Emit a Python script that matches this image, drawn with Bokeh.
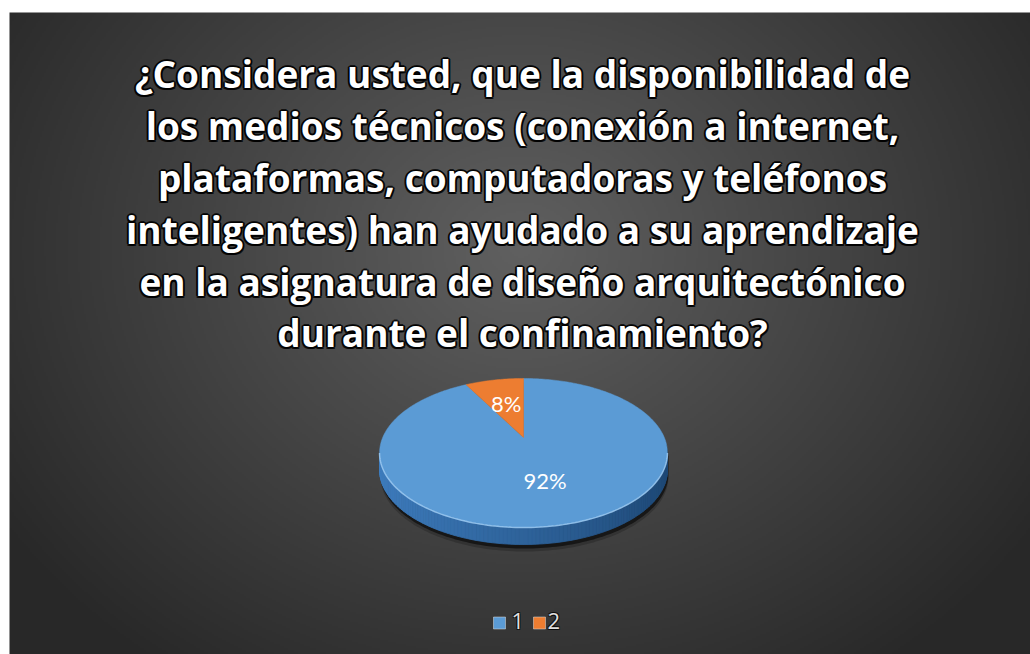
import math
import numpy as np
from bokeh.plotting import figure
from bokeh.models import Range1d
from bokeh.core.properties import value
from bokeh.embed import file_html
from bokeh.resources import INLINE

# ---------------- data ----------------
title_lines = [
    "¿Considera usted, que la disponibilidad de",
    "los medios técnicos (conexión a internet,",
    "plataformas, computadoras y teléfonos",
    "inteligentes) han ayudado a su aprendizaje",
    "en la asignatura de diseño arquitectónico",
    "durante el confinamiento?",
]
categories = ["1", "2"]
shares = [92, 8]
pct_labels = ["92%", "8%"]

# ---------------- styles ----------------
top_colors = ["#5b9bd5", "#ed7d31"]
side_light = ["#3f7ec0", "#c8651f"]
side_dark = ["#1d4774", "#7a3a10"]

W, H = 1030, 654

p = figure(width=W, height=H, x_range=Range1d(0, W), y_range=Range1d(0, H),
           output_backend="svg", toolbar_location=None, min_border=0,
           x_axis_location=None, y_axis_location=None)
p.grid.visible = False
p.outline_line_color = None
p.background_fill_color = "white"
p.border_fill_color = "white"


def Y(sy):
    return H - sy


def hex2rgb(h):
    h = h.lstrip("#")
    return np.array([int(h[i:i + 2], 16) for i in (0, 2, 4)], dtype=float)


def mix(c1, c2, s):
    c = hex2rgb(c1) * (1 - s) + hex2rgb(c2) * s
    return "#%02x%02x%02x" % tuple(int(round(v)) for v in c)


# ---------------- radial gradient background ----------------
X0, Y0 = 9, 12
bw, bh = W - X0, H - Y0
nx, ny = bw // 2, bh // 2
gxs = X0 + (np.arange(nx) + 0.5) * bw / nx
gys = Y0 + (np.arange(ny) + 0.5) * bh / ny
gx, gy = np.meshgrid(gxs, gys)
t = np.clip(np.sqrt(((gx - 520) / 620.0) ** 2 + ((gy - 248) / 520.0) ** 2), 0, 1)
c = (96 - 56 * t).astype(np.uint8)
img = np.empty((ny, nx), dtype=np.uint32)
view = img.view(dtype=np.uint8).reshape((ny, nx, 4))
view[..., 0] = c
view[..., 1] = c
view[..., 2] = c
view[..., 3] = 255
p.image_rgba(image=[np.ascontiguousarray(img[::-1])], x=X0, y=0, dw=bw, dh=bh)

# ---------------- 3D pie ----------------
CX, CY = 523, 437
A, B, K, T = 140.8, 71.3, 0.208, 17


def proj(theta_deg, r=1.0):
    th = np.radians(theta_deg)
    u, v = r * np.sin(th), r * np.cos(th)
    d = 1 + K * v
    return CX + A * u / d, Y(CY - B * v / d)


total = float(sum(shares))
bounds = np.concatenate([[0.0], np.cumsum(shares)]) / total * 360.0
th_ext = math.degrees(math.acos(-K))

# shadow
back = np.linspace(-th_ext, th_ext, 120)
front = np.linspace(th_ext, 360 - th_ext, 121)
bx, by = proj(back)
fx, fy = proj(front)
sil_x = np.concatenate([bx, fx[1:-1]])
sil_y = np.concatenate([by, fy[1:-1] - T])
p.patch(sil_x + 1, sil_y - 7, fill_color="black", fill_alpha=0.2, line_color=None)
p.patch(sil_x + 1, sil_y - 4, fill_color="black", fill_alpha=0.55, line_color=None)

# side wall
side_xs, side_ys, side_cols = [], [], []
for i in range(len(front) - 1):
    mid = (front[i] + front[i + 1]) / 2
    k = int(np.searchsorted(bounds, mid % 360, side="right") - 1)
    k = min(max(k, 0), len(shares) - 1)
    s = (1 - math.sin(math.radians(mid))) / 2
    side_xs.append([fx[i], fx[i + 1], fx[i + 1], fx[i]])
    side_ys.append([fy[i], fy[i + 1], fy[i + 1] - T, fy[i] - T])
    side_cols.append(mix(side_dark[k], side_light[k], s))
p.patches(side_xs, side_ys, fill_color=side_cols, line_color=side_cols, line_width=0.8)

# top faces
for i in range(len(shares)):
    a0, a1 = bounds[i], bounds[i + 1]
    th = np.linspace(a0, a1, max(int(a1 - a0), 2) + 1)
    px, py = proj(th)
    xs = np.concatenate([[CX], px])
    ys = np.concatenate([[Y(CY)], py])
    p.patch(xs, ys, fill_color=top_colors[i], line_color=top_colors[i], line_width=0.5)

# rim highlight on the front edge
p.line(fx, fy, line_color="#a6d0f5", line_alpha=0.75, line_width=1.5)

# slice labels
mids = (bounds[:-1] + bounds[1:]) / 2
lx, ly = proj(mids, 0.55)
p.text(x=lx, y=ly, text=pct_labels, text_align="center", text_baseline="middle",
       text_color="white", text_font=value("Lato"), text_font_size="22px")

# ---------------- title ----------------
baselines = [73, 125, 177, 229, 281, 332]
TX = 522
tkw = dict(text_align="center", text_baseline="alphabetic", text_font=value("Open Sans"),
           text_font_style="bold", text_font_size="37px")
tys = [Y(b) for b in baselines]
for dx, dy in [(2, 0), (-2, 0), (0, 2), (0, -2), (1.5, 1.5), (-1.5, 1.5), (1.5, -1.5), (-1.5, -1.5)]:
    p.text(x=[TX] * len(title_lines), y=tys, text=title_lines, text_color="black",
           text_alpha=0.75, x_offset=dx, y_offset=dy, **tkw)
p.text(x=[TX] * len(title_lines), y=tys, text=title_lines, text_color="white", **tkw)

# ---------------- legend ----------------
leg_sq_x = [499, 539]
leg_tx = [511, 547]
p.rect(x=leg_sq_x, y=[Y(622.5)] * 2, width=12, height=12, fill_color=top_colors,
       line_color="#dddddd", line_alpha=0.5)
lkw = dict(text_align="left", text_baseline="middle", text_font=value("Open Sans"),
           text_font_size="22px")
LY = Y(620)
for dx, dy in [(1, 1), (-1, -1), (1, -1), (-1, 1)]:
    p.text(x=leg_tx, y=[LY] * 2, text=categories, text_color="black", text_alpha=0.6,
           x_offset=dx, y_offset=dy, **lkw)
p.text(x=leg_tx, y=[LY] * 2, text=categories, text_color="#e0e0e0", **lkw)

open("out.html", "w").write(file_html(p, INLINE))
